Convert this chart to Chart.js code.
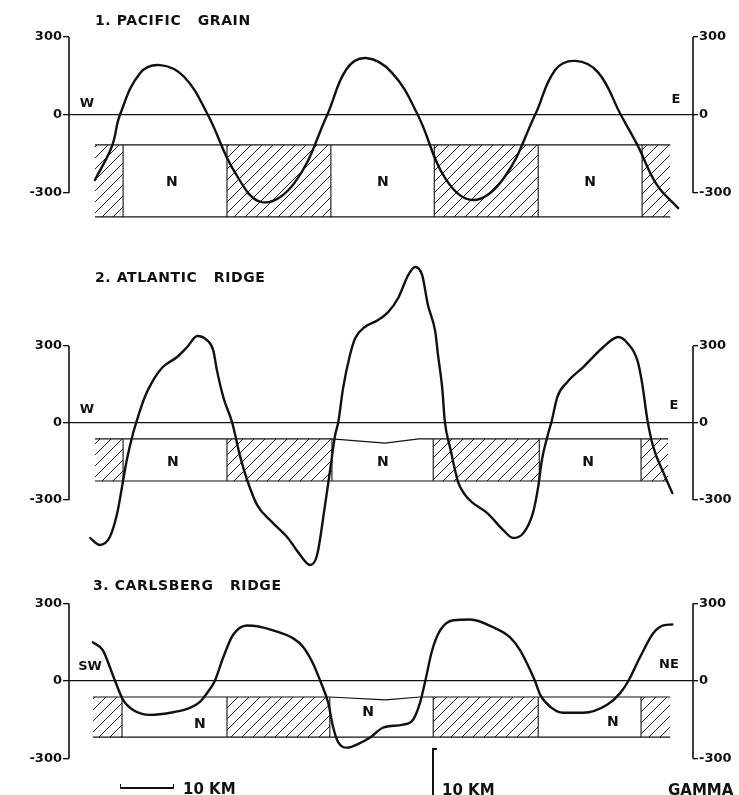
<!DOCTYPE html>
<html>
<head>
<meta charset="utf-8">
<script src="https://cdn.jsdelivr.net/npm/chart.js@4.4.1/dist/chart.umd.min.js"></script>
<style>
  html, body { margin: 0; padding: 0; background: #fff; }
  #fig { position: relative; width: 739px; height: 795px; overflow: hidden; font-family: 'DejaVu Sans', sans-serif; color: #111; }
  #fig canvas { position: absolute; left: 0; top: 0; }
  .t { position: absolute; white-space: pre; font-weight: bold; line-height: 1; }
  .title { font-size: 14px; letter-spacing: 0.6px; transform: translateY(-50%); }
  .dir { font-size: 13px; transform: translate(-50%, -50%); }
  .foot { font-size: 15px; transform: translateY(-50%); }
  .bar { position: absolute; border: 0 solid #111; }
</style>
</head>
<body>
<div id="fig">
  <canvas id="c1" width="739" height="795"></canvas>
  <canvas id="c2" width="739" height="795"></canvas>
  <canvas id="c3" width="739" height="795"></canvas>

  <div class="t title" style="left:95px;top:20px">1. PACIFIC   GRAIN</div>
  <div class="t title" style="left:95px;top:277px">2. ATLANTIC   RIDGE</div>
  <div class="t title" style="left:93px;top:585px">3. CARLSBERG   RIDGE</div>

  <div class="t dir" style="left:87px;top:102px">W</div>
  <div class="t dir" style="left:676px;top:98px">E</div>
  <div class="t dir" style="left:87px;top:408px">W</div>
  <div class="t dir" style="left:674px;top:404px">E</div>
  <div class="t dir" style="left:90px;top:665px">SW</div>
  <div class="t dir" style="left:669px;top:663px">NE</div>

  <div class="bar" style="left:120px;top:784px;width:52px;height:3px;border-width:0 1px 2px 1px"></div>
  <div class="t foot" style="left:183px;top:789px">10 KM</div>
  <div class="bar" style="left:432px;top:748px;width:3px;height:50px;border-width:2px 0 0 2px"></div>
  <div class="t foot" style="left:442px;top:790px">10 KM</div>
  <div class="t foot" style="left:668px;top:790px">GAMMA</div>
</div>
<script>
// distance along profile (km) and magnetic anomaly (gamma)
const pacificKm = [4.9, 8.1, 9.6, 13.4, 17.2, 21.7, 26.2, 31.3, 36.4, 42.5, 48.7, 52.3, 56.0, 60.9, 65.8, 71.0, 76.2, 82.0, 87.9, 91.7, 95.5, 99.8, 104.1, 107.2, 110.9, 114.9];
const pacificGamma = [-250, -120, 0, 161, 192, 147, 0, -221, -335, -262, 0, 175, 219, 163, 0, -245, -327, -243, 0, 173, 208, 164, 0, -115, -269, -358];

const atlanticKm = [4.0, 5.8, 7.7, 9.1, 10.0, 10.9, 12.1, 13.0, 14.3, 15.7, 17.7, 20.4, 22.3, 24.2, 26.0, 27.2, 27.9, 29.1, 30.8, 32.3, 33.6, 35.5, 38.3, 41.3, 43.2, 45.5, 46.8, 48.3, 49.2, 50.2, 50.8, 51.7, 53.0, 54.0, 55.8, 58.3, 60.2, 62.1, 64.0, 65.3, 66.6, 67.7, 69.1, 69.6, 70.4, 70.9, 71.9, 73.4, 74.7, 76.1, 78.9, 81.9, 83.8, 85.7, 87.5, 88.5, 89.2, 90.2, 91.1, 92.1, 94.0, 97.0, 100.8, 103.6, 105.3, 107.2, 108.1, 109.1, 110.2, 111.9, 113.8];
const atlanticGamma = [-448, -475, -444, -351, -249, -144, -39, 23, 101, 160, 218, 257, 296, 339, 323, 284, 206, 101, 0, -132, -222, -320, -386, -448, -503, -553, -514, -319, -191, -47, 4, 136, 265, 331, 374, 401, 432, 487, 577, 608, 577, 460, 354, 265, 136, 4, -97, -230, -280, -310, -351, -417, -448, -429, -351, -249, -144, -55, 12, 101, 160, 218, 296, 335, 312, 245, 156, 12, -93, -183, -273];

const carlsbergKm = [4.5, 6.4, 7.7, 8.7, 10.2, 12.1, 15.3, 19.1, 22.8, 24.7, 26.2, 27.5, 29.1, 30.9, 33.6, 35.5, 38.5, 42.3, 44.2, 46.0, 47.4, 48.9, 49.8, 50.8, 52.5, 54.3, 56.8, 59.2, 63.0, 64.9, 66.2, 67.2, 68.5, 70.0, 72.5, 75.7, 80.0, 83.2, 85.1, 87.0, 87.9, 88.9, 90.8, 93.2, 97.0, 101.5, 104.0, 105.5, 107.7, 110.2, 112.1, 113.8];
const carlsbergGamma = [150, 119, 54, 0, -73, -112, -131, -123, -104, -81, -42, 0, 92, 177, 215, 212, 196, 165, 131, 69, 0, -85, -177, -238, -258, -246, -219, -181, -169, -150, -85, 0, 119, 196, 235, 238, 208, 169, 119, 42, 0, -54, -100, -123, -123, -92, -46, 0, 92, 185, 215, 219];

// block boundaries (km); R = reversed (hatched), N = normal
const pacificBlocks = [4.9, 10.2, 29.8, 49.4, 68.9, 88.5, 108.1, 113.4];
const atlanticBlocks = [4.9, 10.2, 29.8, 49.6, 68.7, 88.7, 107.9, 113.0];
const carlsbergBlocks = [4.5, 10.0, 29.8, 49.2, 68.7, 88.5, 107.9, 113.4];
const blockPolarity = ['R', 'N', 'R', 'N', 'R', 'N', 'R'];

// top edge of the block strip (dips over the central block in 2 and 3)
const pacificTopKm = [4.9, 113.4];
const pacificTopGamma = [-115, -115];
const atlanticTopKm = [4.9, 49.6, 59.6, 66.0, 113.0];
const atlanticTopGamma = [-62, -62, -78, -62, -62];
const carlsbergTopKm = [4.5, 49.2, 59.7, 66.2, 113.4];
const carlsbergTopGamma = [-62, -62, -73, -62, -62];

// "N" labels
const pacificNKm = [19.4, 59.2, 98.3];
const pacificNGamma = [-258, -258, -258];
const atlanticNKm = [19.6, 59.2, 97.9];
const atlanticNGamma = [-155, -155, -155];
const carlsbergNKm = [24.7, 56.4, 102.6];
const carlsbergNGamma = [-169, -123, -162];

const axisTicks = [-300, 0, 300];

function makeHatch() {
    const s = 11;
    const c = document.createElement('canvas');
    c.width = s; c.height = s;
    const g = c.getContext('2d');
    g.strokeStyle = '#222';
    g.lineWidth = 1;
    g.beginPath();
    g.moveTo(0, s); g.lineTo(s, 0);
    g.moveTo(-1, 1); g.lineTo(1, -1);
    g.moveTo(s - 1, s + 1); g.lineTo(s + 1, s - 1);
    g.stroke();
    return g.createPattern(c, 'repeat');
}
const hatch = makeHatch();

const panelDecor = {
    id: 'panelDecor',
    afterDatasetsDraw(chart, args, opts) {
        const ctx = chart.ctx;
        const y = chart.scales.y;
        const x = chart.scales.x;
        const area = chart.chartArea;
        ctx.save();
        ctx.strokeStyle = '#111';
        ctx.lineWidth = 1.6;
        [area.left, area.right].forEach(px => {
            ctx.beginPath();
            ctx.moveTo(px, y.getPixelForValue(300));
            ctx.lineTo(px, y.getPixelForValue(-300));
            ctx.stroke();
        });
        ctx.fillStyle = '#111';
        ctx.font = 'bold 14px "DejaVu Sans"';
        ctx.textAlign = 'center';
        ctx.textBaseline = 'middle';
        opts.nKm.forEach((k, i) => {
            ctx.fillText('N', x.getPixelForValue(k), y.getPixelForValue(opts.nGamma[i]));
        });
        ctx.restore();
    }
};

function yAxis(p, side) {
    return {
        type: 'linear',
        position: side,
        min: p.min,
        max: p.max,
        afterBuildTicks: s => { s.ticks = axisTicks.map(v => ({ value: v })); },
        afterFit: s => { s.width = side === 'left' ? 69 : 46; },
        border: { display: false },
        grid: {
            drawOnChartArea: side === 'left',
            color: c => (c.tick && c.tick.value === 0) ? '#111' : 'rgba(0,0,0,0)',
            lineWidth: 1.3,
            tickColor: '#111',
            tickLength: side === 'left' ? 6 : 5,
            tickWidth: 1.4
        },
        ticks: {
            autoSkip: false,
            padding: 1,
            color: '#111',
            font: { family: 'DejaVu Sans', size: 13, weight: 'bold' },
            callback: v => String(v)
        }
    };
}

function makePanel(id, p) {
    const H = 795;
    const padTop = p.zeroY - p.max * p.k;
    const padBottom = H - (p.zeroY - p.min * p.k);
    const b = p.blocks;

    const curve = {
        data: p.km.map((x, i) => ({ x: x, y: p.gamma[i] })),
        borderColor: '#111', borderWidth: 2.4, pointRadius: 0, fill: false,
        borderCapStyle: 'round', borderJoinStyle: 'round'
    };
    if (p.smooth) curve.tension = 0.4;
    else curve.cubicInterpolationMode = 'monotone';

    const datasets = [curve];
    datasets.push({
        data: p.topKm.map((x, i) => ({ x: x, y: p.topGamma[i] })),
        borderColor: '#111', borderWidth: 1.2, pointRadius: 0, fill: false
    });
    datasets.push({
        data: [{ x: b[0], y: p.bottomGamma }, { x: b[b.length - 1], y: p.bottomGamma }],
        borderColor: '#111', borderWidth: 1.2, pointRadius: 0, fill: false
    });
    const edges = [];
    b.slice(1, -1).forEach(x => {
        edges.push({ x: x, y: p.blockTop }, { x: x, y: p.bottomGamma }, { x: x, y: null });
    });
    datasets.push({
        data: edges, spanGaps: false,
        borderColor: '#111', borderWidth: 1.1, pointRadius: 0, fill: false
    });
    blockPolarity.forEach((pol, i) => {
        if (pol !== 'R') return;
        datasets.push({
            data: [{ x: b[i], y: p.blockTop }, { x: b[i + 1], y: p.blockTop }],
            borderWidth: 0, pointRadius: 0,
            backgroundColor: hatch,
            fill: { value: p.bottomGamma }
        });
    });

    new Chart(document.getElementById(id), {
        type: 'line',
        data: { datasets: datasets },
        options: {
            responsive: false,
            animation: false,
            events: [],
            devicePixelRatio: 1,
            layout: { padding: { top: padTop, bottom: padBottom, left: 0, right: 0 } },
            plugins: {
                legend: { display: false },
                tooltip: { enabled: false },
                panelDecor: { nKm: p.nKm, nGamma: p.nGamma }
            },
            scales: {
                x: { type: 'linear', min: 0, max: 117.7, display: false },
                y: yAxis(p, 'left'),
                y2: yAxis(p, 'right')
            }
        },
        plugins: [panelDecor]
    });
}

makePanel('c1', {
    zeroY: 115, k: 0.26, min: -420, max: 330, smooth: true,
    km: pacificKm, gamma: pacificGamma, blocks: pacificBlocks,
    topKm: pacificTopKm, topGamma: pacificTopGamma,
    blockTop: -115, bottomGamma: -392,
    nKm: pacificNKm, nGamma: pacificNGamma
});
makePanel('c2', {
    zeroY: 423, k: 0.2567, min: -620, max: 680, smooth: false,
    km: atlanticKm, gamma: atlanticGamma, blocks: atlanticBlocks,
    topKm: atlanticTopKm, topGamma: atlanticTopGamma,
    blockTop: -62, bottomGamma: -226,
    nKm: atlanticNKm, nGamma: atlanticNGamma
});
makePanel('c3', {
    zeroY: 681, k: 0.2583, min: -380, max: 350, smooth: false,
    km: carlsbergKm, gamma: carlsbergGamma, blocks: carlsbergBlocks,
    topKm: carlsbergTopKm, topGamma: carlsbergTopGamma,
    blockTop: -62, bottomGamma: -217,
    nKm: carlsbergNKm, nGamma: carlsbergNGamma
});
</script>
</body>
</html>
